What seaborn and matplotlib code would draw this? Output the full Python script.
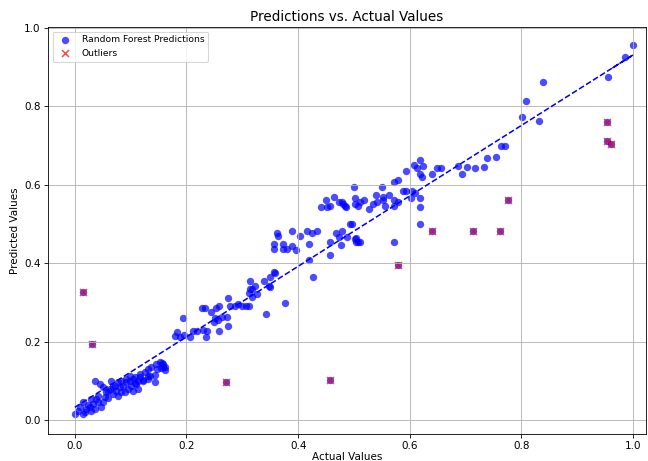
import numpy as np
import pandas as pd
import seaborn as sns
import matplotlib
matplotlib.use("Agg")
import matplotlib.pyplot as plt

# actual values (x) and random forest predictions (y)
actual = [
    0.000, 0.014, 0.009, 0.014, 0.023, 0.020, 0.029, 0.032, 0.029, 0.036,
    0.041, 0.047, 0.050, 0.036, 0.045, 0.041, 0.054, 0.056, 0.063, 0.059,
    0.065, 0.072, 0.077, 0.082, 0.068, 0.073, 0.077, 0.082, 0.086, 0.091,
    0.099, 0.100, 0.091, 0.099, 0.108, 0.113, 0.104, 0.090, 0.116, 0.125,
    0.131, 0.131, 0.136, 0.145, 0.152, 0.158, 0.161, 0.154, 0.143, 0.131,
    0.122, 0.109, 0.113, 0.104, 0.108, 0.143, 0.134, 0.116, 0.122, 0.147,
    0.158, 0.161, 0.156, 0.018, 0.005, 0.027, 0.038, 0.059, 0.050, 0.068,
    0.081, 0.095,
    0.179, 0.183, 0.188, 0.195, 0.206, 0.211, 0.219, 0.229, 0.237, 0.235,
    0.194, 0.228, 0.233, 0.244, 0.251, 0.249, 0.258, 0.253, 0.258, 0.263,
    0.272, 0.274, 0.256, 0.274, 0.278, 0.287, 0.292, 0.299, 0.306, 0.312,
    0.312, 0.317, 0.342, 0.376, 0.314, 0.323, 0.339, 0.349, 0.358, 0.348,
    0.314, 0.326, 0.317, 0.349,
    0.362, 0.364, 0.389, 0.416, 0.425, 0.434, 0.403, 0.357, 0.373, 0.357,
    0.373, 0.380, 0.389, 0.396, 0.419, 0.457, 0.457, 0.468, 0.473, 0.478,
    0.477, 0.487, 0.504, 0.504, 0.511, 0.493, 0.572, 0.419, 0.427, 0.357,
    0.502, 0.507, 0.496,
    0.450, 0.464, 0.441, 0.452, 0.457, 0.473, 0.480, 0.486, 0.500, 0.550,
    0.502, 0.502, 0.507, 0.518, 0.511, 0.527, 0.534, 0.541, 0.556, 0.552,
    0.572, 0.572, 0.579, 0.602, 0.618, 0.618, 0.618, 0.539, 0.552, 0.563,
    0.588, 0.593, 0.604, 0.609, 0.572, 0.579, 0.593, 0.618, 0.608, 0.624,
    0.613, 0.618, 0.622, 0.640, 0.649, 0.656, 0.686, 0.694, 0.702, 0.717,
    0.733, 0.738, 0.754, 0.763, 0.771, 0.801, 0.808, 0.832, 0.839, 0.955,
    0.986, 1.000, 0.478, 0.484,
]
predicted = [
    0.015, 0.015, 0.033, 0.046, 0.038, 0.028, 0.053, 0.041, 0.023, 0.028,
    0.046, 0.033, 0.046, 0.099, 0.092, 0.061, 0.059, 0.071, 0.079, 0.056,
    0.099, 0.087, 0.097, 0.099, 0.066, 0.074, 0.061, 0.071, 0.087, 0.097,
    0.099, 0.087, 0.104, 0.112, 0.109, 0.099, 0.074, 0.071, 0.117, 0.122,
    0.112, 0.130, 0.135, 0.142, 0.148, 0.142, 0.135, 0.132, 0.097, 0.104,
    0.099, 0.092, 0.079, 0.104, 0.094, 0.115, 0.112, 0.109, 0.102, 0.130,
    0.135, 0.127, 0.145, 0.020, 0.023, 0.033, 0.053, 0.074, 0.084, 0.084,
    0.084, 0.079,
    0.214, 0.224, 0.211, 0.216, 0.211, 0.226, 0.226, 0.229, 0.226, 0.211,
    0.260, 0.285, 0.285, 0.275, 0.260, 0.249, 0.290, 0.285, 0.226, 0.262,
    0.262, 0.239, 0.254, 0.310, 0.290, 0.290, 0.295, 0.290, 0.290, 0.290,
    0.323, 0.333, 0.270, 0.298, 0.354, 0.341, 0.354, 0.364, 0.374, 0.341,
    0.333, 0.321, 0.313, 0.338,
    0.478, 0.468, 0.483, 0.481, 0.478, 0.481, 0.468, 0.450, 0.450, 0.435,
    0.435, 0.435, 0.443, 0.433, 0.448, 0.453, 0.422, 0.478, 0.466, 0.481,
    0.445, 0.466, 0.463, 0.453, 0.453, 0.501, 0.453, 0.407, 0.364, 0.377,
    0.461, 0.453, 0.499,
    0.560, 0.570, 0.542, 0.542, 0.547, 0.555, 0.550, 0.542, 0.593, 0.593,
    0.565, 0.550, 0.545, 0.560, 0.555, 0.539, 0.550, 0.555, 0.545, 0.560,
    0.562, 0.545, 0.555, 0.565, 0.567, 0.542, 0.499, 0.573, 0.570, 0.575,
    0.585, 0.583, 0.583, 0.580, 0.608, 0.611, 0.636, 0.662, 0.651, 0.649,
    0.644, 0.628, 0.621, 0.628, 0.644, 0.644, 0.649, 0.628, 0.646, 0.644,
    0.646, 0.669, 0.672, 0.700, 0.700, 0.773, 0.814, 0.763, 0.863, 0.875,
    0.926, 0.957, 0.555, 0.545,
]

# outliers (also part of the predictions)
outlier_actual = [0.014, 0.030, 0.270, 0.457, 0.579, 0.640, 0.713, 0.762, 0.776, 0.953, 0.953, 0.960]
outlier_pred = [0.326, 0.193, 0.097, 0.102, 0.394, 0.483, 0.483, 0.481, 0.560, 0.761, 0.712, 0.705]

df = pd.DataFrame({"actual": actual + outlier_actual,
                   "predicted": predicted + outlier_pred})
out = pd.DataFrame({"actual": outlier_actual, "predicted": outlier_pred})

DPI = 75
fig = plt.figure(figsize=(648 / DPI, 461 / DPI), dpi=DPI)
ax = fig.add_axes([48 / 648, 27 / 461, 598 / 648, 407 / 461])

sns.scatterplot(data=df, x="actual", y="predicted", color="blue", alpha=0.7,
                s=50, linewidth=0, label="Random Forest Predictions", ax=ax)
sns.scatterplot(data=out, x="actual", y="predicted", color="red", marker="x",
                alpha=0.7, s=45, linewidth=1.5, label="Outliers", ax=ax)

# trend line over the (unsorted) actual values
z = np.polyfit(df["actual"], df["predicted"], 1)
p = np.poly1d(z)
ax.plot(df["actual"], p(df["actual"]), "b--")

ax.set_xlim(-0.048, 1.023)
ax.set_ylim(-0.036, 1.0025)
ax.set_title("Predictions vs. Actual Values", fontsize=13)
ax.set_xlabel("Actual Values", labelpad=0.5)
ax.set_ylabel("Predicted Values")
ax.grid(True)
ax.legend(loc="upper left", fontsize=8.8)

plt.savefig("out.png", dpi=DPI)
